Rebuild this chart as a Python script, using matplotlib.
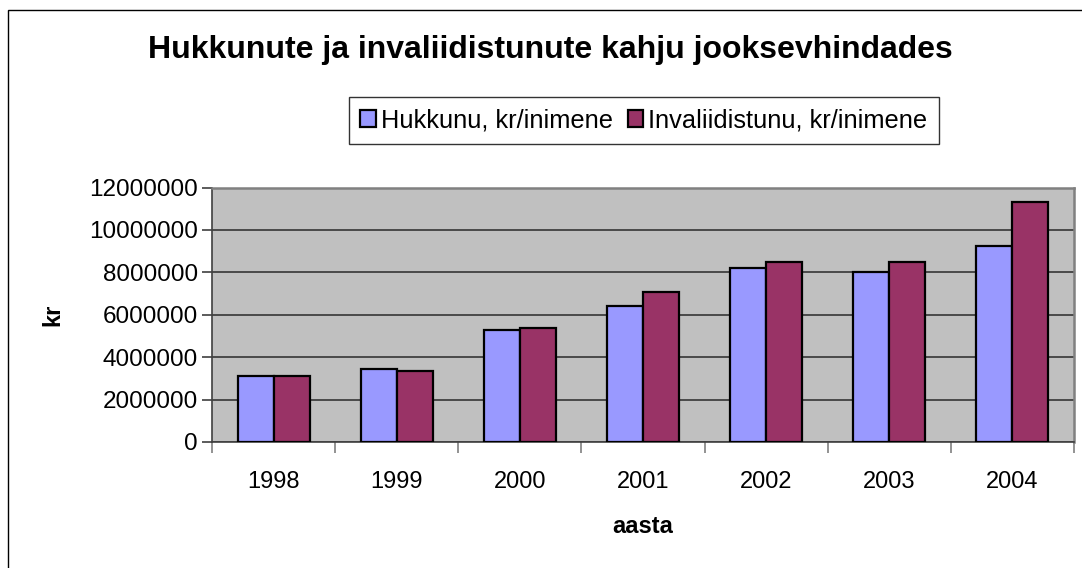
import matplotlib
matplotlib.use("Agg")
import matplotlib.pyplot as plt
import numpy as np
from matplotlib.patches import Rectangle

years = ["1998", "1999", "2000", "2001", "2002", "2003", "2004"]
hukkunu = [3090000, 3460000, 5260000, 6390000, 8200000, 8020000, 9240000]
invaliid = [3090000, 3370000, 5370000, 7070000, 8500000, 8500000, 11320000]
series_names = ["Hukkunu, kr/inimene", "Invaliidistunu, kr/inimene"]
yticks = [0, 2000000, 4000000, 6000000, 8000000, 10000000, 12000000]

plt.rcParams['font.family'] = ['Liberation Sans', 'DejaVu Sans']

fig = plt.figure(figsize=(10.82, 5.68), dpi=100)
fig.patches.append(Rectangle((8/1082, -0.1), 1.2, 1.1 - 10/568, transform=fig.transFigure,
                             fill=False, edgecolor='black', linewidth=1.0))
ax = fig.add_axes([212/1082, 1 - 442/568, (1074-212)/1082, (442-187.5)/568])
ax.set_facecolor('#C0C0C0')

x = np.arange(len(years))
w = 0.292
ax.bar(x - w/2, hukkunu, w, color='#9999FF', edgecolor='black', linewidth=1.6,
       label=series_names[0], zorder=3)
ax.bar(x + w/2, invaliid, w, color='#993366', edgecolor='black', linewidth=1.6,
       label=series_names[1], zorder=3)

ax.set_xlim(-0.5, len(years) - 0.5)
ax.set_ylim(0, 12000000)
ax.set_yticks(yticks)
ax.set_yticklabels([str(v) for v in yticks], fontsize=17.5)
ax.yaxis.grid(True, color='#404040', linewidth=1.3, zorder=0)
ax.set_axisbelow(True)

ax.set_xticks(x)
ax.set_xticklabels(years, fontsize=17)
ax.tick_params(axis='x', which='major', length=0, pad=21)
ax.set_xticks(np.arange(len(years) + 1) - 0.5, minor=True)
ax.tick_params(axis='x', which='minor', length=8, color='#808080', width=1.2, direction='out')
ax.tick_params(axis='y', which='major', length=7, color='#404040', width=1.2, pad=3)

for s in ['top', 'right']:
    ax.spines[s].set_color('#808080')
    ax.spines[s].set_linewidth(1.8)
for s in ['left', 'bottom']:
    ax.spines[s].set_color('#404040')
    ax.spines[s].set_linewidth(1.2)

ax.set_ylabel('kr', fontsize=17, fontweight='bold', labelpad=18)
ax.set_xlabel('aasta', fontsize=17, fontweight='bold', labelpad=16)

fig.text(550/1082, 1 - 50/568, 'Hukkunute ja invaliidistunute kahju jooksevhindades',
         ha='center', va='center', fontsize=23, fontweight='bold')

leg = fig.legend(loc='center', bbox_to_anchor=(644/1082, 1 - 120.5/568), ncol=2,
                 fontsize=18.3, frameon=True, fancybox=False, edgecolor='black',
                 handlelength=0.6, handleheight=0.6, handletextpad=0.2,
                 columnspacing=0.6, borderpad=0.45)
leg.get_frame().set_linewidth(1.0)

fig.savefig('out.png', dpi=100)
